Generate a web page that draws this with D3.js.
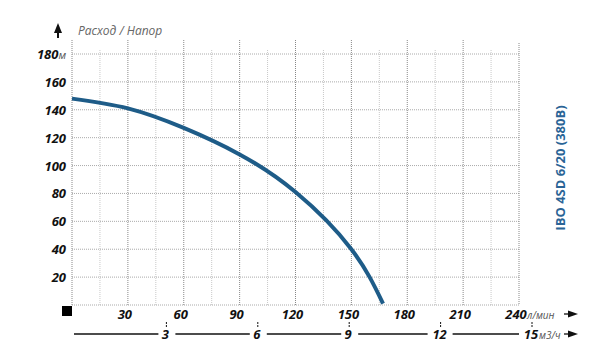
<!DOCTYPE html>
<html>
<head>
<meta charset="utf-8">
<script src="https://cdn.jsdelivr.net/npm/d3@7"></script>
<style>
  body { margin: 0; background: #fff; }
  svg text { font-family: "Open Sans", "DejaVu Sans", sans-serif; }
</style>
</head>
<body>
<div id="chart"></div>
<script>
var svgWidth = 600;
var svgHeight = 359;

// flow in l/min and head in m
var flow = [0, 30, 60, 90, 120, 150, 167];
var head = [148, 141, 127, 108, 81, 40, 1];

var flowTicks = [30, 60, 90, 120, 150, 180, 210, 240];
var flowMinor = [15, 45, 75, 105, 135, 165, 195, 225];
var headTicks = [20, 40, 60, 80, 100, 120, 140, 160, 180];
var cubicTicks = [3, 6, 9, 12, 15];

var title = "IBO 4SD 6/20 (380B)";
var axisTitle = "Расход / Напор";

var svg = d3.select("#chart")
    .append("svg")
    .attr("width", svgWidth)
    .attr("height", svgHeight);

var x = d3.scaleLinear().domain([0, 240]).range([72, 519]);
var y = d3.scaleLinear().domain([0, 180]).range([305, 54]);
var xCubic = d3.scaleLinear().domain([0, 15]).range([75, 532]);

var grid = svg.append("g");

// minor verticals
grid.selectAll(".minor")
    .data(flowMinor)
    .enter()
    .append("line")
    .attr("x1", d => x(d))
    .attr("x2", d => x(d))
    .attr("y1", 50)
    .attr("y2", y(0))
    .attr("stroke", "#c8c8c8")
    .attr("stroke-dasharray", "1,1");

// horizontals
grid.selectAll(".hline")
    .data([0].concat(headTicks))
    .enter()
    .append("line")
    .attr("x1", x(0))
    .attr("x2", x(240))
    .attr("y1", d => y(d))
    .attr("y2", d => y(d))
    .attr("stroke", "#aaa")
    .attr("stroke-dasharray", "1,1");

// major verticals
grid.selectAll(".major")
    .data([0].concat(flowTicks))
    .enter()
    .append("line")
    .attr("x1", d => x(d))
    .attr("x2", d => x(d))
    .attr("y1", d => d === 240 ? 43 : 40)
    .attr("y2", y(0))
    .attr("stroke", "#888")
    .attr("stroke-dasharray", "1,1");

// curve
var line = d3.line()
    .x(d => x(d[0]))
    .y(d => y(d[1]))
    .curve(d3.curveNatural);

svg.append("path")
    .datum(flow.map((f, i) => [f, head[i]]))
    .attr("d", line)
    .attr("fill", "none")
    .attr("stroke", "#1e5c88")
    .attr("stroke-width", 4)
    .attr("stroke-linecap", "butt");

// y labels
var yLabels = svg.append("g")
    .selectAll("text")
    .data(headTicks)
    .enter()
    .append("text")
    .attr("x", 66)
    .attr("y", d => y(d) + 5)
    .attr("text-anchor", "end")
    .attr("font-size", "13px")
    .attr("font-weight", "bold")
    .attr("font-style", "italic")
    .attr("fill", "#111");

yLabels.append("tspan").text(d => d);
yLabels.filter(d => d === 180)
    .append("tspan")
    .attr("font-weight", "normal")
    .attr("font-size", "11px")
    .attr("fill", "#555")
    .text("м");

// flow labels (l/min)
svg.append("g")
    .selectAll("text")
    .data(flowTicks)
    .enter()
    .append("text")
    .attr("x", d => x(d) - 3)
    .attr("y", 319)
    .attr("text-anchor", "middle")
    .attr("font-size", "13px")
    .attr("font-weight", "bold")
    .attr("font-style", "italic")
    .attr("fill", "#111")
    .text(d => d);

svg.append("text")
    .attr("x", x(240) + 8)
    .attr("y", 319)
    .attr("font-size", "10px")
    .attr("font-style", "italic")
    .attr("fill", "#555")
    .text("л/мин");

// cubic meter axis
var segs = [[x(0) + 2, xCubic(3) - 8]];
for (var i = 0; i < cubicTicks.length - 1; i++) {
    segs.push([xCubic(cubicTicks[i]) + (cubicTicks[i] >= 10 ? 12 : 9),
        xCubic(cubicTicks[i + 1]) - (cubicTicks[i + 1] >= 10 ? 13 : 8)]);
}
svg.append("g")
    .selectAll("line")
    .data(segs)
    .enter()
    .append("line")
    .attr("x1", d => d[0])
    .attr("x2", d => d[1])
    .attr("y1", 334)
    .attr("y2", 334)
    .attr("stroke", "#111")
    .attr("stroke-width", 1.3);

svg.append("g")
    .selectAll("line")
    .data(cubicTicks)
    .enter()
    .append("line")
    .attr("x1", d => xCubic(d))
    .attr("x2", d => xCubic(d))
    .attr("y1", 322)
    .attr("y2", 327)
    .attr("stroke", "#111")
    .attr("stroke-dasharray", "2,1");

svg.append("g")
    .selectAll("text")
    .data(cubicTicks)
    .enter()
    .append("text")
    .attr("x", d => xCubic(d) - 1)
    .attr("y", 339)
    .attr("text-anchor", "middle")
    .attr("font-size", "13px")
    .attr("font-weight", "bold")
    .attr("font-style", "italic")
    .attr("fill", "#111")
    .text(d => d);

svg.append("text")
    .attr("x", xCubic(15) + 7)
    .attr("y", 339)
    .attr("font-size", "10px")
    .attr("font-style", "italic")
    .attr("fill", "#555")
    .text("м3/ч");

// arrows
function arrowRight(ax, ay) {
    svg.append("line")
        .attr("x1", ax - 4).attr("x2", ax)
        .attr("y1", ay).attr("y2", ay)
        .attr("stroke", "#111").attr("stroke-width", 1.3);
    svg.append("path")
        .attr("d", `M${ax},${ay - 3.5}L${ax + 10},${ay}L${ax},${ay + 3.5}Z`)
        .attr("fill", "#111");
}
arrowRight(568, 314);
arrowRight(568, 334);

// up arrow
svg.append("path")
    .attr("d", "M58,23L62,33L54,33Z")
    .attr("fill", "#111");
svg.append("rect")
    .attr("x", 57).attr("y", 31).attr("width", 2).attr("height", 7)
    .attr("fill", "#111");

svg.append("text")
    .attr("x", 78)
    .attr("y", 35)
    .attr("font-size", "12px")
    .attr("font-style", "italic")
    .attr("fill", "#666")
    .text(axisTitle);

// origin square
svg.append("rect")
    .attr("x", 62).attr("y", 306).attr("width", 10).attr("height", 10)
    .attr("fill", "#000");

// side title
svg.append("text")
    .attr("transform", "translate(565, 168) rotate(-90)")
    .attr("text-anchor", "middle")
    .attr("font-size", "13px")
    .attr("font-weight", "bold")
    .attr("fill", "#2a6496")
    .text(title);
</script>
</body>
</html>
